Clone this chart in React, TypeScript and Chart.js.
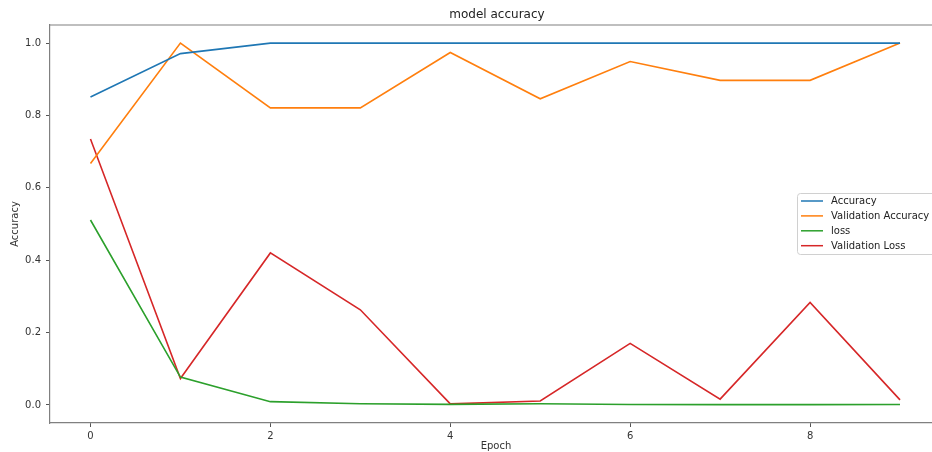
import React, { useEffect, useRef } from "react";
import { Chart, registerables } from "chart.js";

Chart.register(...registerables);

const epochs = [0, 1, 2, 3, 4, 5, 6, 7, 8, 9];
const accuracy = [0.851, 0.971, 1.0, 1.0, 1.0, 1.0, 1.0, 1.0, 1.0, 1.0];
const valAccuracy = [0.667, 1.0, 0.821, 0.821, 0.974, 0.846, 0.949, 0.897, 0.897, 1.0];
const loss = [0.511, 0.077, 0.009, 0.003, 0.0015, 0.003, 0.0012, 0.0008, 0.0008, 0.001];
const valLoss = [0.735, 0.073, 0.42, 0.263, 0.003, 0.011, 0.17, 0.016, 0.283, 0.014];
const xTicks = [0, 2, 4, 6, 8];
const yTicks = [0.0, 0.2, 0.4, 0.6, 0.8, 1.0];
const seriesLabels = ["Accuracy", "Validation Accuracy", "loss", "Validation Loss"];
const seriesColors = ["#1f77b4", "#ff7f0e", "#2ca02c", "#d62728"];

const FONT = "'DejaVu Sans', sans-serif";

const decorPlugin = {
  id: "decor",
  afterDraw(chart: any) {
    const { ctx, chartArea } = chart;
    const { left, top, right, bottom } = chartArea;
    ctx.save();
    // top & right spines
    ctx.strokeStyle = "#808080";
    ctx.lineWidth = 1.2;
    ctx.beginPath();
    ctx.moveTo(left, top);
    ctx.lineTo(right, top);
    ctx.lineTo(right, bottom);
    ctx.stroke();
    // title
    ctx.fillStyle = "#222";
    ctx.font = `12px ${FONT}`;
    ctx.textAlign = "center";
    ctx.textBaseline = "middle";
    ctx.fillText("model accuracy", 497, 15);
    // x label
    ctx.font = `10px ${FONT}`;
    ctx.fillStyle = "#333";
    ctx.fillText("Epoch", 496, 446);
    // y label
    ctx.save();
    ctx.translate(15, (top + bottom) / 2);
    ctx.rotate(-Math.PI / 2);
    ctx.fillText("Accuracy", 0, 0);
    ctx.restore();
    // legend
    const lx = 797.5;
    const ly = 193.5;
    const lw = 160;
    const lh = 61;
    const r = 3;
    ctx.fillStyle = "rgba(255,255,255,0.85)";
    ctx.strokeStyle = "#d0d0d0";
    ctx.lineWidth = 1;
    ctx.beginPath();
    ctx.moveTo(lx + r, ly);
    ctx.lineTo(lx + lw - r, ly);
    ctx.arcTo(lx + lw, ly, lx + lw, ly + r, r);
    ctx.lineTo(lx + lw, ly + lh - r);
    ctx.arcTo(lx + lw, ly + lh, lx + lw - r, ly + lh, r);
    ctx.lineTo(lx + r, ly + lh);
    ctx.arcTo(lx, ly + lh, lx, ly + lh - r, r);
    ctx.lineTo(lx, ly + r);
    ctx.arcTo(lx, ly, lx + r, ly, r);
    ctx.closePath();
    ctx.fill();
    ctx.stroke();
    ctx.font = `10px ${FONT}`;
    ctx.textAlign = "left";
    ctx.textBaseline = "middle";
    chart.data.datasets.forEach((ds: any, i: number) => {
      const y = 201 + i * 14.9;
      ctx.strokeStyle = ds.borderColor;
      ctx.lineWidth = 1.5;
      ctx.beginPath();
      ctx.moveTo(801, y);
      ctx.lineTo(823, y);
      ctx.stroke();
      ctx.fillStyle = "#222";
      ctx.fillText(ds.label, 831, y + 0.5);
    });
    ctx.restore();
  },
};

export default function App() {
  const ref = useRef<HTMLCanvasElement | null>(null);
  useEffect(() => {
    if (!ref.current) return;
    const seriesData = [accuracy, valAccuracy, loss, valLoss];
    const chart = new Chart(ref.current, {
      type: "line",
      data: {
        datasets: seriesData.map((arr, i) => ({
          label: seriesLabels[i],
          data: arr.map((v, j) => ({ x: epochs[j], y: v })),
          borderColor: seriesColors[i],
          backgroundColor: seriesColors[i],
          borderWidth: 1.6,
          pointRadius: 0,
          tension: 0,
          fill: false,
        })),
      },
      options: {
        animation: false,
        responsive: false,
        devicePixelRatio: 1,
        layout: { padding: { top: 25, right: 19.5, left: 0, bottom: 0 } },
        plugins: {
          legend: { display: false },
          title: { display: false },
          tooltip: { enabled: false },
        },
        scales: {
          x: {
            type: "linear",
            min: -0.45,
            max: 9.45,
            afterBuildTicks: (axis: any) => {
              axis.ticks = xTicks.map((v) => ({ value: v }));
            },
            afterFit: (axis: any) => {
              axis.height = 29;
              axis.paddingLeft = 0;
              axis.paddingRight = 0;
            },
            grid: {
              drawOnChartArea: false,
              drawTicks: true,
              tickLength: 4,
              tickColor: "#555",
              tickWidth: 1,
            },
            border: { display: true, color: "#808080", width: 1.2 },
            ticks: {
              color: "#333",
              font: { family: FONT, size: 10 },
              padding: 3,
              maxRotation: 0,
              callback: (v: any) => String(v),
            },
          },
          y: {
            type: "linear",
            min: -0.05,
            max: 1.05,
            afterBuildTicks: (axis: any) => {
              axis.ticks = yTicks.map((v) => ({ value: v }));
            },
            afterFit: (axis: any) => {
              axis.width = 50;
              axis.paddingTop = 0;
              axis.paddingBottom = 0;
            },
            grid: {
              drawOnChartArea: false,
              drawTicks: true,
              tickLength: 4,
              tickColor: "#555",
              tickWidth: 1,
            },
            border: { display: true, color: "#808080", width: 1.2 },
            ticks: {
              color: "#333",
              font: { family: FONT, size: 10 },
              padding: 5,
              callback: (v: any) => Number(v).toFixed(1),
            },
          },
        },
      },
      plugins: [decorPlugin],
    } as any);
    return () => chart.destroy();
  }, []);
  return (
    <div
      style={{
        position: "fixed",
        left: 0,
        top: 0,
        width: 932,
        height: 452,
        overflow: "hidden",
        background: "#fff",
      }}
    >
      <canvas ref={ref} width={960} height={452} style={{ display: "block", width: 960, height: 452 }} />
    </div>
  );
}
